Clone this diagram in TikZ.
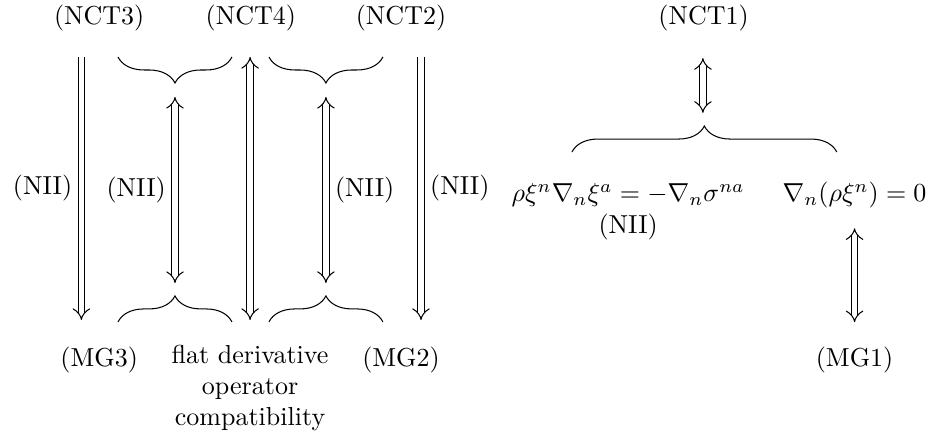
\documentclass[tikz,border=0pt]{standalone}
\usetikzlibrary{arrows.meta,decorations.pathreplacing}
\tikzset{
    imp/.style={double, double distance=2pt, -{Implies}},
    iff/.style={double, double distance=2pt, {Implies}-{Implies}},
    brc/.style={decorate, decoration={brace, amplitude=10pt}},
}
\begin{document}
\begin{tikzpicture}
    \useasboundingbox (0,0) rectangle (12.61,5.905);
    \node (nct3) at (1.34,5.66) {(NCT3)};
    \node (nct4) at (3.39,5.66) {(NCT4)};
    \node (nct2) at (5.42,5.66) {(NCT2)};
    \node (nct1) at (9.51,5.66) {(NCT1)};
    \node (mg3) at (1.34,1.04) {(MG3)};
    \node[align=center] (flat) at (3.38,0.66) {flat derivative\\operator\\compatibility};
    \node (mg2) at (5.42,1.04) {(MG2)};
    \node (mg1) at (11.55,1.04) {(MG1)};
    \node[anchor=base] (eqa) at (8.49,3.18) {$\rho\xi^n\nabla_n\xi^a=-\nabla_n\sigma^{na}$};
    \node[anchor=base] (eqb) at (11.55,3.18) {$\nabla_n(\rho\xi^n)=0$};
    \node (nii) at (8.49,2.84) {(NII)};
    % arrow ends
    \coordinate (a1t) at (1.10,5.135);   \coordinate (a1b) at (1.10,1.58);
    \coordinate (a2t) at (2.365,4.595);  \coordinate (a2b) at (2.365,2.08);
    \coordinate (a3t) at (3.38,5.135);   \coordinate (a3b) at (3.38,1.58);
    \coordinate (a4t) at (4.405,4.595);  \coordinate (a4b) at (4.405,2.08);
    \coordinate (a5t) at (5.69,5.135);   \coordinate (a5b) at (5.69,1.58);
    \coordinate (a6t) at (9.50,5.12);    \coordinate (a6b) at (9.50,4.38);
    \coordinate (a7t) at (11.55,2.82);   \coordinate (a7b) at (11.55,1.55);
    \draw[imp] (a1t) -- node[left] (nii1) {(NII)} (a1b);
    \draw[iff] (a2t) -- node[left] (nii2) {(NII)} (a2b);
    \draw[iff] (a3t) -- (a3b);
    \draw[iff] (a4t) -- node[right] (nii3) {(NII)} (a4b);
    \draw[imp] (a5t) -- node[right] (nii4) {(NII)} (a5b);
    \draw[iff] (a6t) -- (a6b);
    \draw[iff] (a7t) -- (a7b);
    % braces
    \draw[brc] (3.135,5.135) -- (1.595,5.135);
    \draw[brc] (5.175,5.135) -- (3.635,5.135);
    \draw[brc] (1.595,1.554) -- (3.135,1.554);
    \draw[brc] (3.635,1.554) -- (5.175,1.554);
    \draw[brc] (7.73,3.85) -- (11.31,3.85);
\end{tikzpicture}
\end{document}
